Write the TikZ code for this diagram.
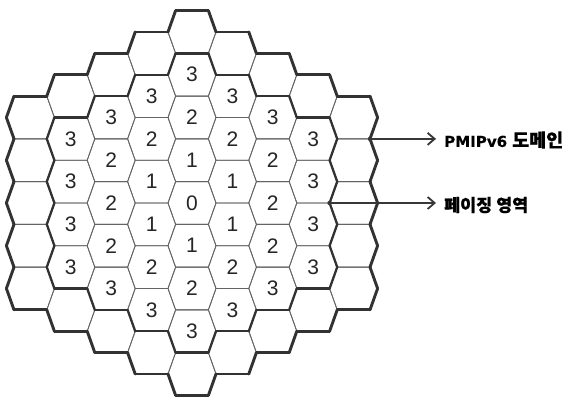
\documentclass[tikz,border=0pt]{standalone}
\usepackage{fontspec}
\setmainfont{Liberation Sans}
\newfontfamily\kofont{Noto Sans CJK KR}[BoldFeatures={FakeBold=0.5}]
\newfontfamily\lafont{DejaVu Sans}[BoldFeatures={FakeBold=0.4}]
\usetikzlibrary{arrows.meta}
\definecolor{thinc}{RGB}{100,100,100}
\definecolor{thickc}{RGB}{50,50,50}
\definecolor{arrc}{RGB}{55,55,55}
\tikzset{
  hexthin/.style={draw=thinc, line width=0.8pt, line join=round},
  pagingline/.style={draw=thickc, line width=2.3pt, line cap=round},
  domainline/.style={draw=thickc, line width=2.9pt, line cap=round},
  cellnum/.style={font=\fontsize{21}{21}\selectfont, inner sep=0pt, text=black!85},
  callout/.style={draw=arrc, line width=1.8pt, -{Straight Barb[length=7pt,width=12pt]}},
  labeltext/.style={anchor=west, inner sep=0pt},
  dotmark/.style={circle, fill=arrc, inner sep=0pt, minimum size=4.5pt}
}
\newcommand{\latpart}[2]{\resizebox{#1}{!}{\lafont\bfseries\fontsize{14.5}{15}\selectfont #2}}
\newcommand{\kopart}[2]{\resizebox{#1}{!}{\kofont\bfseries\fontsize{16}{16}\selectfont #2}}
\begin{document}
\begin{tikzpicture}[x=1pt,y=1pt]
\fill[white] (0,0) rectangle (565,398);
\useasboundingbox (0,0) rectangle (565,398);
% thin hexagons and ring numbers
\foreach \q in {-4,...,4}{
  \foreach \r in {-4,...,4}{
    \pgfmathtruncatemacro\dist{max(abs(\q),abs(\r),abs(\q+\r))}
    \ifnum\dist<5
      \pgfmathsetmacro\cx{192+40.4*\q}
      \pgfmathsetmacro\cy{195-42.75*(\r+0.5*\q)}
      \draw[hexthin] (\cx+24,\cy) -- (\cx+16.4,\cy+21.375) -- (\cx-16.4,\cy+21.375)
        -- (\cx-24,\cy) -- (\cx-16.4,\cy-21.375) -- (\cx+16.4,\cy-21.375) -- cycle;
      \ifnum\dist<4
        \node[cellnum] (c\q\r) at (\cx,\cy) {\dist};
      \fi
    \fi
  }
}
% thick boundaries: paging area (ring 3) and PMIPv6 domain (ring 4)
\foreach \q in {-4,...,4}{
  \foreach \r in {-4,...,4}{
    \pgfmathtruncatemacro\dist{max(abs(\q),abs(\r),abs(\q+\r))}
    \ifnum\dist>2 \ifnum\dist<5
      \pgfmathsetmacro\cx{192+40.4*\q}
      \pgfmathsetmacro\cy{195-42.75*(\r+0.5*\q)}
      \foreach \dq/\dr/\va/\vb in {0/-1/1/2, 0/1/4/5, 1/-1/0/1, 1/0/5/0, -1/0/2/3, -1/1/3/4}{
        \pgfmathtruncatemacro\nd{max(abs(\q+\dq),abs(\r+\dr),abs(\q+\dq+\r+\dr))}
        \ifnum\nd>\dist
          \pgfmathsetmacro\ax{{24,16.4,-16.4,-24,-16.4,16.4}[\va]}
          \pgfmathsetmacro\ay{{0,21.375,21.375,0,-21.375,-21.375}[\va]}
          \pgfmathsetmacro\bx{{24,16.4,-16.4,-24,-16.4,16.4}[\vb]}
          \pgfmathsetmacro\by{{0,21.375,21.375,0,-21.375,-21.375}[\vb]}
          \ifnum\dist=3
            \draw[pagingline] (\cx+\ax,\cy+\ay) -- (\cx+\bx,\cy+\by);
          \else
            \draw[domainline] (\cx+\ax,\cy+\ay) -- (\cx+\bx,\cy+\by);
          \fi
        \fi
      }
    \fi\fi
  }
}
% callouts
\coordinate (pmstart) at (370,259.1);
\coordinate (pgstart) at (329.6,195);
\node[labeltext] (pmlabel) at (444,258) {\latpart{63pt}{PMIPv6}\hspace{5pt}\kopart{51pt}{도메인}};
\node[labeltext] (pglabel) at (444,193) {\kopart{84pt}{페이징 영역}};
\draw[callout] (pmstart) -- ([xshift=-8pt]pmlabel.west |- pmstart);
\draw[callout] (pgstart) -- ([xshift=-8pt]pglabel.west |- pgstart);
\node[dotmark] (pmdot) at (pmstart) {};
\node[dotmark] (pgdot) at (pgstart) {};
\end{tikzpicture}
\end{document}
